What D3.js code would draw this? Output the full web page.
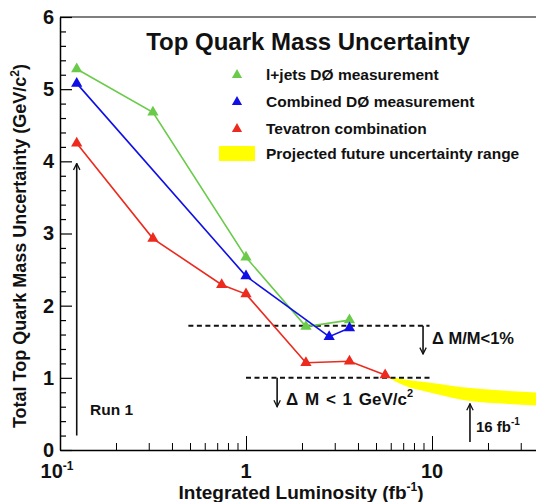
<!DOCTYPE html>
<html>
<head>
    <title>Top Quark Mass Uncertainty</title>
    <script src="https://d3js.org/d3.v7.min.js"></script>
    <style>
        body { margin: 0; background: white; }
        text { font-family: "Liberation Sans", Arial, sans-serif; fill: #111; }
    </style>
</head>
<body>
    <div id="chart"></div>
    <script>
        // measurements (luminosity in fb^-1, uncertainty in GeV/c^2)
        const ljetsLumi = [0.123, 0.316, 1.0, 2.1, 3.6];
        const ljetsUnc = [5.28, 4.68, 2.67, 1.71, 1.80];
        const combLumi = [0.123, 1.0, 2.8, 3.6];
        const combUnc = [5.08, 2.41, 1.57, 1.69];
        const tevLumi = [0.123, 0.316, 0.74, 1.0, 2.1, 3.6, 5.6];
        const tevUnc = [4.25, 2.93, 2.29, 2.16, 1.21, 1.23, 1.04];

        // projected band
        const bandLumi = [5.6, 7, 10, 16, 25, 40];
        const bandHigh = [1.03, 0.98, 0.93, 0.86, 0.82, 0.79];
        const bandLow = [1.03, 0.90, 0.79, 0.68, 0.64, 0.61];

        // reference limits
        const limitLabels = ["\u0394 M/M<1%", "\u0394 M < 1 GeV/c"];
        const limitValues = [1.72, 1.0];
        const limitStart = [0.49, 1.0];
        const limitEnd = [9.7, 9.7];

        const seriesNames = ["l+jets D\u00D8 measurement", "Combined D\u00D8 measurement", "Tevatron combination"];
        const seriesColors = ["#6acb4a", "#1010e6", "#ec2a1e"];
        const bandName = "Projected future uncertainty range";
        const bandColor = "#ffff00";

        const yTicks = [0, 1, 2, 3, 4, 5, 6];
        const xMajor = [0.1, 1, 10, 100];
        const xLabels = ["10", "1", "10"];
        const xLabelVals = [0.1, 1, 10];

        const width = 536, height = 502;

        const x = d3.scaleLog().domain([0.1, 100]).range([60, 618]);
        const y = d3.scaleLinear().domain([0, 6]).range([450, 17]);

        const svg = d3.select("#chart").append("svg")
            .attr("width", width)
            .attr("height", height);

        svg.append("rect").attr("width", width).attr("height", height).attr("fill", "white");

        const defs = svg.append("defs");
        defs.append("marker")
            .attr("id", "arrow")
            .attr("viewBox", "0 0 10 10")
            .attr("refX", 9).attr("refY", 5)
            .attr("markerWidth", 8).attr("markerHeight", 8)
            .attr("markerUnits", "userSpaceOnUse")
            .attr("orient", "auto")
            .append("path")
            .attr("d", "M1,1 L9,5 L1,9")
            .attr("fill", "none")
            .attr("stroke", "#111")
            .attr("stroke-width", 1.6);

        // frame top
        svg.append("line")
            .attr("x1", x(0.1)).attr("x2", width)
            .attr("y1", y(6)).attr("y2", y(6))
            .attr("stroke", "#555").attr("stroke-width", 1.5);

        // y axis ticks (inside)
        const minorY = d3.range(0, 6.001, 0.2).filter(v => Math.abs(v - Math.round(v)) > 0.01);
        svg.append("g")
            .attr("transform", `translate(${x(0.1)},0)`)
            .call(d3.axisRight(y).tickValues(minorY).tickSize(6).tickFormat(""))
            .call(g => g.select(".domain").remove());
        svg.append("g")
            .attr("transform", `translate(${x(0.1)},0)`)
            .call(d3.axisRight(y).tickValues(yTicks).tickSize(12).tickFormat("").tickSizeOuter(0))
            .call(g => g.select(".domain").attr("stroke-width", 1.5));
        svg.append("g")
            .attr("transform", `translate(${x(0.1) - 3},0)`)
            .call(d3.axisLeft(y).tickValues(yTicks).tickSize(0).tickFormat(d3.format("d")))
            .call(g => g.select(".domain").remove())
            .call(g => g.selectAll("text")
                .attr("font-size", 20).attr("font-weight", "bold")
                .attr("font-family", "Liberation Sans, Arial, sans-serif"));
        svg.selectAll("g .tick line").attr("stroke-width", 1.2);

        // x axis ticks (inside)
        const minorX = [];
        [0.1, 1, 10].forEach(dec => d3.range(2, 10).forEach(m => minorX.push(dec * m)));
        svg.append("g")
            .attr("transform", `translate(0,${y(0)})`)
            .call(d3.axisTop(x).tickValues(minorX).tickSize(7).tickFormat(""))
            .call(g => g.select(".domain").remove());
        svg.append("g")
            .attr("transform", `translate(0,${y(0)})`)
            .call(d3.axisTop(x).tickValues(xMajor).tickSize(14).tickFormat("").tickSizeOuter(0))
            .call(g => g.select(".domain").attr("stroke-width", 1.5));

        const xl = svg.append("g").attr("font-size", 20).attr("font-weight", "bold");
        xLabelVals.forEach((v, i) => {
            const t = xl.append("text")
                .attr("x", x(v) + (i === 0 ? -3 : 0))
                .attr("y", 478)
                .attr("text-anchor", "middle")
                .text(xLabels[i]);
            if (i === 0) {
                t.append("tspan").attr("font-size", 12).attr("dy", -8).text("-1");
            }
        });

        // axis titles
        const xt = svg.append("text")
            .attr("x", 301).attr("y", 499)
            .attr("text-anchor", "middle")
            .attr("font-size", 19).attr("font-weight", "bold")
            .text("Integrated Luminosity (fb");
        xt.append("tspan").attr("font-size", 12).attr("dy", -8).text("-1");
        xt.append("tspan").attr("dy", 8).text(")");

        const yt = svg.append("text")
            .attr("transform", "translate(26,246) rotate(-90)")
            .attr("text-anchor", "middle")
            .attr("font-size", 18).attr("font-weight", "bold")
            .text("Total Top Quark Mass Uncertainty (GeV/c");
        yt.append("tspan").attr("font-size", 12).attr("dy", -7).text("2");
        yt.append("tspan").attr("dy", 7).text(")");

        // title
        svg.append("text")
            .attr("x", 308).attr("y", 50)
            .attr("text-anchor", "middle")
            .attr("font-size", 24).attr("font-weight", "bold")
            .text("Top Quark Mass Uncertainty");

        // projected band
        const band = bandLumi.map((l, i) => ({ l, hi: bandHigh[i], lo: bandLow[i] }));
        svg.append("path")
            .datum(band)
            .attr("d", d3.area().x(d => x(d.l)).y0(d => y(d.lo)).y1(d => y(d.hi)).curve(d3.curveMonotoneX))
            .attr("fill", bandColor);

        // dashed limit lines
        limitValues.forEach((v, i) => {
            svg.append("line")
                .attr("x1", x(limitStart[i])).attr("x2", x(limitEnd[i]))
                .attr("y1", y(v)).attr("y2", y(v))
                .attr("stroke", "#111").attr("stroke-width", 2)
                .attr("stroke-dasharray", "5,3.5");
        });

        // series
        const series = [
            { lumi: ljetsLumi, unc: ljetsUnc },
            { lumi: combLumi, unc: combUnc },
            { lumi: tevLumi, unc: tevUnc }
        ];
        const line = d3.line().x(d => x(d[0])).y(d => y(d[1]));
        const tri = d3.symbol().type(d3.symbolTriangle).size(55);
        series.forEach((s, i) => {
            const pts = s.lumi.map((l, j) => [l, s.unc[j]]);
            svg.append("path")
                .datum(pts)
                .attr("d", line)
                .attr("fill", "none")
                .attr("stroke", seriesColors[i])
                .attr("stroke-width", 1.6);
            svg.selectAll(null)
                .data(pts)
                .join("path")
                .attr("transform", d => `translate(${x(d[0])},${y(d[1])})`)
                .attr("d", tri)
                .attr("fill", seriesColors[i]);
        });

        // legend
        const legY = [75, 102, 129];
        seriesNames.forEach((name, i) => {
            svg.append("path")
                .attr("transform", `translate(237,${legY[i]})`)
                .attr("d", d3.symbol().type(d3.symbolTriangle).size(45))
                .attr("fill", seriesColors[i]);
            svg.append("text")
                .attr("x", 266).attr("y", legY[i] + 5)
                .attr("font-size", 15.5)
                .attr("font-weight", "bold")
                .text(name);
        });
        svg.append("rect")
            .attr("x", 219).attr("y", 146).attr("width", 36).attr("height", 15)
            .attr("fill", bandColor);
        svg.append("text")
            .attr("x", 266).attr("y", 159)
            .attr("font-size", 15.5).attr("font-weight", "bold")
            .text(bandName);

        // annotations
        function arrow(xv, y0, y1) {
            svg.append("line")
                .attr("x1", x(xv)).attr("x2", x(xv))
                .attr("y1", y(y0)).attr("y2", y(y1))
                .attr("stroke", "#111").attr("stroke-width", 1.6)
                .attr("marker-end", "url(#arrow)");
        }
        arrow(8.95, 1.72, 1.33);
        svg.append("text")
            .attr("x", x(8.95) + 9).attr("y", 344)
            .attr("font-size", 16.5).attr("font-weight", "bold")
            .text(limitLabels[0]);

        arrow(1.47, 1.0, 0.6);
        const lt = svg.append("text")
            .attr("x", x(1.47) + 9).attr("y", 405)
            .attr("font-size", 17).attr("font-weight", "bold")
            .attr("word-spacing", 2)
            .text(limitLabels[1]);
        lt.append("tspan").attr("font-size", 11).attr("dy", -8).text("2");

        arrow(0.123, 0.2, 3.97);
        svg.append("text")
            .attr("x", 90).attr("y", 415)
            .attr("font-size", 15.5).attr("font-weight", "bold")
            .text("Run 1");

        arrow(16, 0.11, 0.64);
        const ft = svg.append("text")
            .attr("x", x(16) + 6).attr("y", 432)
            .attr("font-size", 15).attr("font-weight", "bold")
            .text("16 fb");
        ft.append("tspan").attr("font-size", 10).attr("dy", -7).text("-1");
    </script>
</body>
</html>
